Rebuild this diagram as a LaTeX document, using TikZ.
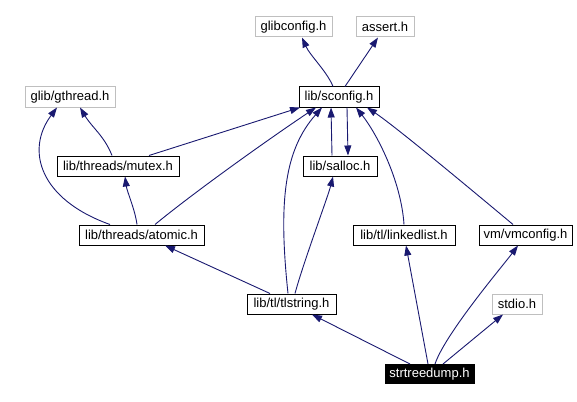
\documentclass[tikz,border=0pt]{standalone}
\usepackage{fontspec}
\setmainfont{Liberation Sans}
\usetikzlibrary{arrows.meta}
\definecolor{edgecol}{HTML}{191970}
\definecolor{graybox}{HTML}{BFBFBF}
\begin{document}
\begin{tikzpicture}[x=1pt,y=-1pt,
  box/.style={draw=black, line width=1pt, inner sep=0pt, minimum height=20pt,
    font=\fontsize{13}{15}\selectfont},
  gbox/.style={box, draw=graybox},
  bbox/.style={box, fill=black, text=white, minimum height=19pt},
  edge/.style={edgecol, line width=0.9pt, -{Triangle[length=10pt,width=7pt]}}]
\useasboundingbox (0,0) rectangle (577,401);
% nodes
\node[gbox, minimum width=77pt] (glibconfig) at (293.5,27) {glibconfig.h};
\node[gbox, minimum width=58pt] (assert) at (385,27) {assert.h};
\node[box, minimum width=80pt] (sconfig) at (339,97) {lib/sconfig.h};
\node[gbox, minimum width=90pt] (gthread) at (70,97) {glib/gthread.h};
\node[box, minimum width=122pt] (mutex) at (118,166) {lib/threads/mutex.h};
\node[box, minimum width=74pt] (salloc) at (340,166) {lib/salloc.h};
\node[box, minimum width=125pt] (atomic) at (141.5,235) {lib/threads/atomic.h};
\node[box, minimum width=102pt] (linkedlist) at (404,235) {lib/tl/linkedlist.h};
\node[box, minimum width=93pt] (vmconfig) at (525.5,235) {vm/vmconfig.h};
\node[box, minimum width=89pt] (tlstring) at (291.5,304) {lib/tl/tlstring.h};
\node[gbox, minimum width=50pt] (stdio) at (517,304) {stdio.h};
\node[bbox, minimum width=89pt] (strtreedump) at (429.5,374) {strtreedump.h};
% edges
\draw[edge] ([xshift=-6pt]sconfig.north) .. controls +(-6,-15) and +(8,18) .. ([xshift=8.5pt]glibconfig.south);
\draw[edge] ([xshift=6pt]sconfig.north) -- ([xshift=-7pt]assert.south);
\draw[edge] ([xshift=-6pt]mutex.north) .. controls +(-8,-20) and +(12,20) .. ([xshift=10pt]gthread.south);
\draw[edge] ([xshift=31pt]mutex.north) -- ([xshift=-39pt]sconfig.south);
\draw[edge] ([xshift=-31.5pt]atomic.north) .. controls +(-70,-25) and +(-32,43) .. ([xshift=-13pt]gthread.south);
\draw[edge] ([xshift=-4.5pt]atomic.north) .. controls +(-2,-15) and +(2,15) .. ([xshift=7pt]mutex.south);
\draw[edge] ([xshift=13.5pt]atomic.north) .. controls +(40,-33) and +(-45,30) .. ([xshift=-23pt]sconfig.south);
\draw[edge] ([xshift=-8pt]salloc.north) -- ([xshift=-8pt]sconfig.south);
\draw[edge] ([xshift=8pt]sconfig.south) -- ([xshift=8pt]salloc.north);
\draw[edge] ([xshift=-3.5pt]tlstring.north) .. controls +(-10,-94) and +(-37,42) .. ([xshift=-17pt]sconfig.south);
\draw[edge] ([xshift=3.5pt]tlstring.north) .. controls +(8,-30) and +(-5,20) .. ([xshift=-7pt]salloc.south);
\draw[edge] ([xshift=-21.5pt]tlstring.north) -- ([xshift=23.5pt]atomic.south);
\draw[edge] (linkedlist.north) .. controls +(-3,-45) and +(20,25) .. ([xshift=17pt]sconfig.south);
\draw[edge] ([xshift=-12.5pt]vmconfig.north) .. controls +(-30,-25) and +(30,20) .. ([xshift=28pt]sconfig.south);
\draw[edge] ([xshift=-19.5pt]strtreedump.north) -- ([xshift=20.5pt]tlstring.south);
\draw[edge] ([xshift=-1.5pt]strtreedump.north) -- ([xshift=2pt]linkedlist.south);
\draw[edge] ([xshift=5.5pt]strtreedump.north) .. controls +(10,-30) and +(-15,20) .. ([xshift=-7.5pt]vmconfig.south);
\draw[edge] ([xshift=13.5pt]strtreedump.north) -- ([xshift=-14pt]stdio.south);
\end{tikzpicture}
\end{document}
